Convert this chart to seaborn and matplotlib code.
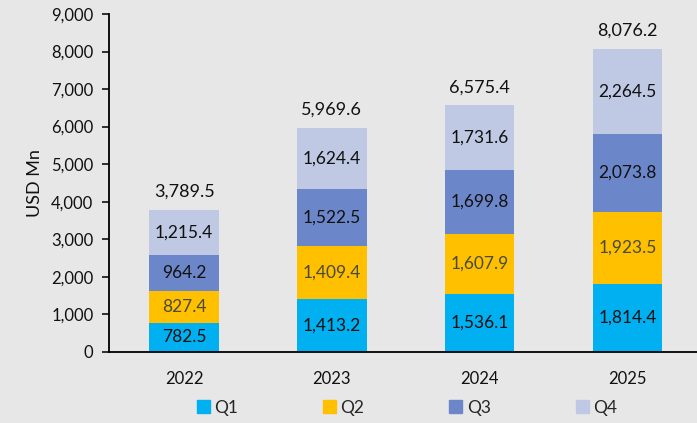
import pandas as pd
import numpy as np
import matplotlib.pyplot as plt
import seaborn as sns
import matplotlib.ticker as ticker
from matplotlib.patches import Patch

# ==========================================
# DATA
# ==========================================
years = ["2022", "2023", "2024", "2025"]
q1 = [782.5, 1413.2, 1536.1, 1814.4]
q2 = [827.4, 1409.4, 1607.9, 1923.5]
q3 = [964.2, 1522.5, 1699.8, 2073.8]
q4 = [1215.4, 1624.4, 1731.6, 2264.5]
totals = [3789.5, 5969.6, 6575.4, 8076.2]

quarters = ["Q1", "Q2", "Q3", "Q4"]
colors = {"Q1": "#00B0F0", "Q2": "#FFC000", "Q3": "#6C87C9", "Q4": "#BFC9E4"}
label_colors = {"Q1": "#111111", "Q2": "#4A4A3A", "Q3": "#111111", "Q4": "#111111"}
bg = "#E7E7E7"

df = pd.DataFrame({"Year": years, "Q1": q1, "Q2": q2, "Q3": q3, "Q4": q4})
cum = df[quarters].cumsum(axis=1)
cum["Year"] = df["Year"]

# ==========================================
# PLOT
# ==========================================
sns.set_style("white")
plt.rcParams['font.family'] = ['Lato', 'DejaVu Sans']

fig = plt.figure(figsize=(6.97, 4.23), dpi=100, facecolor=bg)
ax = fig.add_axes([0.156, 0.168, 0.844, 0.799])
ax.set_facecolor(bg)

# draw cumulative bars from top layer down, so each one covers the one below
for q in reversed(quarters):
    sns.barplot(data=cum, x="Year", y=q, ax=ax, color=colors[q], width=0.47,
                saturation=1, edgecolor=colors[q], linewidth=0)

# label segments (containers are in order Q4, Q3, Q2, Q1)
for cont, q in zip(ax.containers, reversed(quarters)):
    vals = df[q].tolist()
    for rect, v in zip(cont, vals):
        top = rect.get_height()
        ax.text(rect.get_x() + rect.get_width() / 2, top - v / 2, f"{v:,.1f}",
                ha='center', va='center', fontsize=12.5, color=label_colors[q])

# totals above bars
for i, t in enumerate(totals):
    ax.annotate(f"{t:,.1f}", (i, t), xytext=(0, 7), textcoords="offset points",
                ha='center', va='bottom', fontsize=13, color="#111111")

ax.set_ylim(0, 9000)
ax.set_xlim(-0.51, 3.47)
ax.yaxis.set_major_locator(ticker.MultipleLocator(1000))
ax.yaxis.set_major_formatter(ticker.FuncFormatter(lambda v, p: f"{int(v):,}"))
ax.set_ylabel("USD Mn", fontsize=13, color="#111111", labelpad=6)
ax.set_xlabel("")

for s in ["top", "right"]:
    ax.spines[s].set_visible(False)
ax.spines["left"].set_color("black")
ax.spines["bottom"].set_color("black")
ax.spines["left"].set_linewidth(1.3)
ax.spines["bottom"].set_linewidth(1.3)

ax.tick_params(axis='y', length=5, width=1.2, labelsize=12, colors="#111111", pad=6, left=True)
ax.tick_params(axis='x', length=0, labelsize=12, colors="#111111", pad=14)

handles = [Patch(facecolor=colors[q], edgecolor=colors[q], label=q) for q in quarters]
fig.legend(handles=handles, loc="lower center", ncol=4, frameon=False,
           bbox_to_anchor=(0.584, -0.02), fontsize=12.5, handlelength=0.75,
           handleheight=0.75, handletextpad=0.25, columnspacing=4.9)

plt.savefig("out.png", dpi=100, facecolor=bg)
